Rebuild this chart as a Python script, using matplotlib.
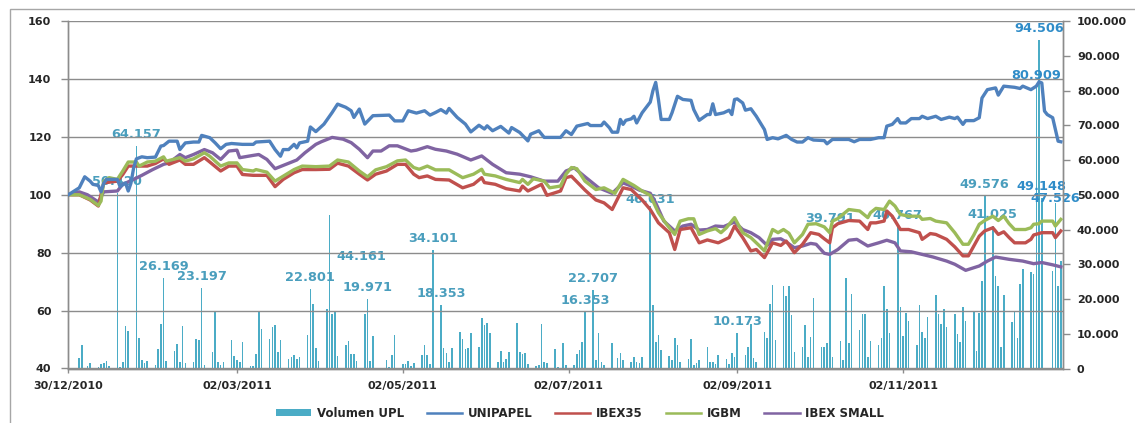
import matplotlib
matplotlib.use("Agg")
import matplotlib.pyplot as plt
import matplotlib.dates as mdates
import matplotlib.ticker as mticker
from matplotlib.patches import Rectangle, Patch
from matplotlib.lines import Line2D
import numpy as np
import pandas as pd

plt.rcParams['font.family'] = ['DejaVu Sans']
plt.rcParams['font.weight'] = 'bold'

BASE = pd.Timestamp('2010-12-30')

# ---------------- data (day offsets from 30/12/2010) ----------------
vol_days = [0, 4, 5, 7, 8, 11, 12, 13, 14, 15,
            18, 19, 20, 21, 22, 25, 26, 27, 28, 29,
            32, 33, 34, 35, 36, 39, 40, 41, 42, 43,
            46, 47, 48, 49, 50, 53, 54, 55, 56, 57,
            60, 61, 62, 63, 64, 67, 68, 69, 70, 71,
            74, 75, 76, 77, 78, 81, 82, 83, 84, 85,
            88, 89, 90, 91, 92, 95, 96, 97, 98, 99,
            102, 103, 104, 105, 106, 109, 110, 111, 112, 117,
            118, 119, 120, 123, 124, 125, 126, 127, 130, 131,
            132, 133, 134, 137, 138, 139, 140, 141, 144, 145,
            146, 147, 148, 151, 152, 153, 154, 155, 158, 159,
            160, 161, 162, 165, 166, 167, 168, 169, 172, 173,
            174, 175, 176, 179, 180, 182, 183, 186, 187, 188,
            189, 190, 193, 194, 195, 196, 197, 200, 202, 203,
            204, 207, 208, 209, 210, 211, 214, 215, 216, 217,
            218, 221, 222, 223, 224, 225, 228, 229, 230, 231,
            232, 235, 236, 237, 238, 239, 242, 243, 244, 245,
            246, 249, 250, 251, 252, 253, 256, 257, 258, 259,
            260, 263, 264, 265, 266, 267, 270, 271, 272, 273,
            274, 277, 278, 279, 280, 281, 284, 285, 286, 287,
            288, 291, 292, 293, 294, 295, 298, 299, 300, 301,
            302, 305, 306, 307, 308, 309, 312, 313, 314, 315,
            316, 319, 320, 321, 322, 323, 326, 327, 328, 329,
            330, 333, 334, 335, 336, 337, 340, 341, 342, 343,
            344, 347, 348, 349, 350, 351, 354, 355, 356, 357,
            358, 362, 363, 364, 365]
vol_k = [1.8, 3.0, 6.7, 0.8, 1.6, 0.3, 1.4, 1.6, 2.2, 0.8,
         50.420, 0.5, 1.8, 12.2, 10.9, 64.157, 8.8, 2.5, 1.6, 2.2,
         1.1, 5.6, 12.7, 26.169, 2.2, 4.9, 7.1, 2.0, 12.2, 1.6,
         1.8, 8.6, 8.3, 23.197, 1.1, 4.7, 16.3, 1.8, 1.1, 1.8,
         8.3, 3.5, 2.5, 1.8, 7.6, 0.8, 0.8, 4.2, 16.6, 11.4,
         8.5, 12.0, 12.4, 4.7, 8.1, 2.8, 3.2, 4.0, 2.8, 3.3,
         9.5, 22.801, 18.5, 5.9, 2.2, 17.1, 44.161, 15.8, 16.3, 3.7,
         6.9, 8.0, 4.2, 4.2, 2.2, 15.6, 19.971, 2.2, 9.3, 2.5,
         0.3, 3.8, 9.5, 1.3, 1.3, 2.2, 0.8, 1.7, 3.8, 6.7,
         3.8, 1.3, 34.101, 18.353, 5.9, 4.4, 2.0, 5.9, 10.6, 8.5,
         5.6, 5.9, 10.1, 6.2, 14.4, 12.4, 13.0, 10.3, 2.0, 5.1,
         2.0, 2.8, 4.7, 13.0, 4.7, 4.2, 4.4, 1.4, 0.6, 1.1,
         12.7, 1.8, 1.6, 5.6, 0.5, 7.2, 1.1, 1.1, 4.3, 5.4,
         7.7, 16.353, 22.707, 2.5, 10.1, 2.0, 1.1, 7.2, 3.0, 4.4,
         2.5, 1.8, 3.3, 1.8, 1.6, 3.3, 46.631, 18.3, 7.7, 9.5,
         5.4, 3.6, 2.5, 8.8, 6.7, 2.0, 2.8, 8.5, 1.1, 1.6,
         2.5, 6.2, 2.0, 2.0, 1.4, 4.0, 2.8, 1.4, 4.4, 3.4,
         10.173, 4.0, 6.2, 12.7, 3.0, 2.0, 10.6, 8.8, 18.5, 24.0,
         8.3, 23.6, 20.9, 23.6, 15.3, 4.7, 6.2, 12.4, 3.4, 9.1,
         20.3, 6.2, 6.2, 7.2, 39.791, 3.4, 8.0, 2.4, 26.0, 7.2,
         21.4, 11.0, 15.8, 15.6, 3.3, 8.0, 6.9, 8.8, 23.8, 17.1,
         10.3, 40.767, 17.8, 9.3, 15.9, 13.7, 6.9, 18.3, 10.6, 8.8,
         14.9, 21.2, 15.6, 12.7, 17.1, 11.9, 15.8, 9.8, 7.7, 17.8,
         13.7, 16.6, 4.9, 16.1, 25.1, 49.576, 41.025, 26.7, 23.6, 6.2,
         21.2, 13.5, 16.3, 8.8, 24.3, 28.7, 27.7, 27.2, 80.909, 94.506,
         49.148, 28.2, 47.526, 23.8, 30.9]

labeled_k = [50.420, 64.157, 26.169, 23.197, 22.801, 44.161, 19.971, 34.101,
             18.353, 16.353, 22.707, 46.631, 10.173, 39.791, 40.767, 49.576,
             41.025, 80.909, 94.506, 49.148, 47.526]

unipapel_days = [0, 4, 6, 8, 9, 11, 12, 13, 14, 18,
                 19, 21, 22, 23, 24, 25, 27, 29, 32, 34,
                 35, 37, 40, 41, 43, 46, 48, 49, 52, 54,
                 56, 58, 60, 64, 68, 69, 74, 76, 78, 79,
                 81, 83, 84, 85, 88, 89, 91, 94, 97, 99,
                 102, 104, 105, 107, 109, 112, 118, 120, 123, 125,
                 128, 131, 133, 135, 137, 139, 140, 143, 146, 148,
                 151, 153, 154, 156, 159, 162, 163, 166, 169, 170,
                 173, 175, 181, 183, 185, 187, 191, 192, 196, 197,
                 199, 200, 202, 203, 204, 205, 207, 208, 209, 211,
                 214, 215, 216, 217, 218, 221, 222, 223, 224, 226,
                 229, 230, 232, 235, 236, 237, 238, 241, 243, 244,
                 245, 246, 248, 249, 251, 253, 256, 257, 259, 261,
                 264, 266, 268, 270, 272, 274, 278, 279, 281, 287,
                 289, 291, 295, 298, 300, 301, 303, 305, 306, 308,
                 310, 313, 314, 316, 319, 321, 324, 326, 327, 329,
                 330, 333, 335, 336, 338, 341, 342, 344, 348, 350,
                 351, 354, 356, 357, 358, 359, 360, 362, 364, 365]
unipapel = [100, 102.4, 106.2, 104.7, 103.6, 103.2, 101, 104, 105.3, 105.3,
            102.8, 104.1, 101.3, 104, 109.3, 112.4, 113.1, 112.8, 113, 116.8,
            117, 118.5, 118.5, 115.6, 117.9, 118.2, 118.2, 120.5, 119.7, 117.9,
            115.9, 117.4, 117.7, 117.4, 117.4, 118.2, 118.5, 115.6, 113.3, 115.6,
            115.6, 117.4, 116.2, 117.9, 118.5, 123.4, 121.8, 124.4, 128.4, 131.3,
            130.2, 129, 126.7, 129.6, 124.4, 127.3, 127.5, 125.5, 125.5, 129,
            128.2, 129, 127.5, 128.4, 129.4, 128.2, 129.8, 126.7, 124.4, 121.7,
            124, 122.7, 123.8, 122.1, 123.6, 121.3, 123.2, 121.5, 118.6, 120.9,
            122.1, 119.8, 119.8, 122.1, 120.8, 123.7, 124.6, 123.9, 123.9, 125.1,
            123.1, 121.6, 121.6, 126, 124.3, 125.7, 126.2, 127.1, 124.8, 128.3,
            132, 136, 138.8, 132.9, 126, 126, 128.3, 131.1, 134, 132.9,
            132.6, 129.4, 125.7, 127.7, 127.7, 131.4, 127.7, 128.3, 129.2, 127.7,
            132.9, 133.1, 131.7, 129.2, 129.7, 127.1, 122.5, 119.1, 119.7, 119.3,
            120.5, 119.1, 118.2, 118.2, 119.7, 118.9, 118.7, 117.6, 119.1, 119.1,
            118.3, 119.1, 119.1, 119.7, 119.7, 123.7, 124.3, 126.3, 124.8, 124.8,
            126.3, 126.3, 127.1, 126.3, 127.1, 126, 126.8, 126.3, 126.8, 124.3,
            125.6, 125.6, 126.6, 133.4, 136.3, 136.9, 134.4, 137.5, 137.1, 136.7,
            137.5, 136.3, 137.5, 139, 138.6, 128.9, 127.7, 126.6, 118.5, 118.3]

ibex35_days = [0, 4, 8, 11, 13, 18, 20, 22, 25, 29,
               32, 35, 37, 41, 43, 46, 50, 52, 56, 59,
               62, 64, 68, 73, 76, 79, 83, 86, 91, 96,
               99, 103, 107, 110, 113, 117, 121, 124, 127, 129,
               132, 135, 140, 145, 149, 152, 153, 157, 161, 166,
               167, 169, 174, 176, 181, 183, 185, 190, 194, 197,
               200, 204, 207, 211, 214, 217, 221, 223, 225, 229,
               232, 235, 239, 243, 245, 248, 251, 253, 256, 259,
               262, 264, 267, 270, 273, 276, 278, 280, 281, 283,
               287, 291, 294, 295, 297, 300, 301, 303, 306, 309,
               313, 314, 317, 319, 323, 326, 329, 331, 333, 335,
               337, 340, 342, 344, 346, 348, 352, 354, 355, 358,
               362, 363, 365]
ibex35 = [100, 100, 98.2, 96.1, 104.1, 104.7, 107, 109.9, 109.9, 109.9,
          110.8, 112.4, 110.5, 112, 110.5, 110.5, 112.8, 111.3, 108.2, 109.9,
          109.9, 107, 106.7, 106.7, 102.8, 105.3, 107.6, 108.7, 108.7, 108.8,
          110.9, 109.9, 107.1, 105.1, 107.1, 108.2, 110.5, 110.5, 107.1, 105.9,
          106.5, 105.3, 105.1, 102.4, 103.6, 105.9, 104.2, 103.6, 102.1, 101.3,
          103, 101.3, 103.6, 99.8, 101.3, 105.9, 106.4, 101.6, 98.2, 97.2,
          94.9, 102.4, 101.8, 98.2, 94.9, 90.3, 86.9, 81.1, 88, 88.6,
          83.4, 84.4, 83.4, 85.2, 89.2, 85.2, 80.6, 81.1, 78.3, 83.4,
          82.5, 84, 80, 82.9, 86.9, 86.3, 84.8, 83.4, 88.6, 90,
          91.1, 90.9, 88, 90.3, 90.3, 90.9, 94.4, 92.6, 88, 88,
          86.9, 84.6, 86.6, 86.3, 84.6, 82, 78.9, 78.9, 82.3, 85.7,
          87.5, 88.6, 86.3, 87.2, 85.2, 83.4, 83.4, 84.6, 86.1, 86.9,
          86.9, 85.2, 87.5]

igbm_days = [0, 4, 8, 11, 12, 13, 15, 18, 20, 22,
             25, 26, 29, 32, 35, 36, 41, 43, 46, 50,
             52, 56, 59, 62, 64, 68, 69, 73, 76, 79,
             83, 86, 91, 96, 99, 103, 107, 110, 113, 117,
             121, 124, 127, 129, 132, 135, 140, 145, 149, 152,
             153, 157, 161, 166, 167, 169, 171, 175, 177, 181,
             183, 185, 187, 190, 194, 197, 201, 204, 208, 211,
             214, 217, 220, 223, 225, 228, 230, 232, 235, 238,
             240, 242, 245, 248, 251, 254, 256, 259, 261, 263,
             265, 267, 270, 272, 275, 278, 280, 281, 283, 287,
             291, 294, 295, 297, 300, 302, 304, 306, 309, 313,
             314, 317, 319, 323, 326, 329, 331, 333, 335, 337,
             340, 342, 344, 346, 348, 352, 354, 355, 357, 358,
             362, 363, 365]
igbm = [100, 100, 98.4, 96.3, 97.8, 104.7, 105.9, 105.3, 108.2, 111.3,
        111.3, 109.9, 111.3, 111.6, 113.1, 111.6, 112.8, 111.6, 112.4, 114.5,
        113.3, 109.9, 111, 111, 108.7, 108.2, 108.7, 107.8, 104.7, 106.4,
        108.7, 109.9, 109.7, 109.9, 112, 111.3, 108.2, 106.2, 108.6, 109.7,
        111.7, 112, 109.4, 108.8, 109.9, 108.6, 108.6, 105.9, 107.1, 108.8,
        107.1, 106.5, 105.3, 104.2, 105.3, 103.6, 105.5, 104.7, 102.4, 103,
        107.1, 109.4, 109, 104.7, 101.8, 102.4, 100.5, 105.3, 103.2, 101.3,
        99.8, 93.8, 89.8, 86.3, 90.9, 91.7, 91.7, 86.3, 87.5, 88.3,
        86.9, 88.6, 92.1, 86.9, 85.2, 82.5, 80.6, 88, 86.9, 88,
        86.7, 83.4, 86.3, 89.8, 90, 88.9, 86.9, 90.9, 91.8, 94.9,
        94.4, 92.1, 93.8, 95.3, 94.9, 97.8, 96.1, 93.2, 92.6, 92.6,
        91.5, 91.8, 90.9, 90.3, 86.9, 82.9, 82.9, 86.1, 89.8, 91.1,
        92.6, 91.1, 92.6, 90, 88, 88, 88.6, 89.8, 90, 90.9,
        90.9, 89.2, 91.5]

ibex_small_days = [0, 4, 7, 11, 13, 18, 20, 24, 27, 31,
                   35, 37, 41, 43, 46, 50, 53, 56, 59, 62,
                   63, 68, 70, 73, 76, 80, 84, 87, 91, 93,
                   97, 101, 104, 107, 110, 112, 115, 118, 121, 126,
                   128, 132, 135, 139, 143, 148, 152, 156, 161, 166,
                   170, 175, 180, 183, 186, 190, 195, 200, 204, 207,
                   210, 214, 216, 219, 223, 226, 229, 232, 235, 238,
                   241, 245, 248, 251, 254, 257, 259, 262, 264, 267,
                   270, 273, 275, 278, 280, 283, 287, 290, 294, 298,
                   301, 304, 306, 310, 314, 318, 323, 326, 330, 335,
                   338, 341, 346, 351, 355, 358, 362, 365]
ibex_small = [100, 101, 100, 97.5, 101, 101.3, 103.6, 105.3, 106.7, 108.7,
              110.5, 111, 113.9, 112.8, 113.9, 115.6, 114.5, 112.2, 115.1, 115.4,
              112.8, 113.6, 113.9, 112.2, 109, 110.5, 112, 114.5, 117.4, 118.3,
              119.8, 119.2, 118, 115.7, 112.8, 115.1, 115.1, 116.9, 116.9, 115.1,
              115.4, 116.6, 115.7, 115.1, 114, 112, 113.4, 110.5, 107.6, 107.1,
              106.2, 104.7, 104.7, 108.2, 109.3, 106.2, 102.4, 100.5, 104.1, 103,
              101.6, 100.5, 97.2, 90.9, 87.5, 89.2, 89.8, 87.8, 88, 89.2,
              89, 90.6, 88, 86.9, 85.2, 82.5, 84.6, 84.8, 83.7, 81.7,
              82.3, 83.2, 82.9, 79.8, 79.4, 81.1, 84.3, 84.6, 82.3, 83.4,
              84.3, 83.4, 80.6, 80.3, 79.4, 78.5, 77.1, 76, 73.9, 75.4,
              77.1, 78.5, 77.7, 77.1, 76.2, 76.6, 75.8, 75.1]

xtick_labels = ['30/12/2010', '02/03/2011', '02/05/2011', '02/07/2011',
                '02/09/2011', '02/11/2011']
series_names = ['Volumen UPL', 'UNIPAPEL', 'IBEX35', 'IGBM', 'IBEX SMALL']

# ---------------- styles ----------------
C_BAR = '#4BACC6'
C_UNI = '#4F81BD'
C_IBEX = '#C0504D'
C_IGBM = '#9BBB59'
C_SMALL = '#8064A2'
C_GRID = '#8C8C8C'
C_TXT = '#262626'
C_LBL = '#4A9EBD'
C_LBL2 = '#2F8CC8'
LW = 2.4


def to_num(days):
    return mdates.date2num(BASE + pd.to_timedelta(np.asarray(days, dtype=float), unit='D'))


W, H = 1135, 423
fig = plt.figure(figsize=(W / 100, H / 100), dpi=100)
fig.patch.set_facecolor('white')
fig.patches.append(Rectangle((10 / W, -0.05), 1.2, 1.05 - 9.3 / H,
                             transform=fig.transFigure, fill=False,
                             ec='#A6A6A6', lw=1.0))

ax = fig.add_axes([68 / W, 1 - 368.5 / H, 995 / W, 347.5 / H])
ax2 = ax.twinx()
ax.set_zorder(ax2.get_zorder() + 1)
ax.patch.set_visible(False)

# bars (secondary axis)
vol_x = to_num(vol_days)
volumes = np.asarray(vol_k) * 1000
ax2.bar(vol_x, volumes, width=0.6, color=C_BAR, edgecolor='none', zorder=2)
ax2.set_ylim(0, 100000)
ax2.set_yticks(np.arange(0, 100001, 10000))
ax2.yaxis.set_major_formatter(mticker.FuncFormatter(
    lambda v, p: f'{v:,.0f}'.replace(',', '.')))
ax2.tick_params(axis='y', length=5, width=1, color=C_GRID, labelsize=8,
                labelcolor=C_TXT, pad=5)

blue_set = {80.909, 94.506, 49.148, 47.526}
offsets = {44.161: (23, -30), 46.631: (0, 4.7), 47.526: (0, 3.2)}
for d, v in zip(vol_days, vol_k):
    if v in labeled_k:
        dx, dy = offsets.get(v, (0, 8.3))
        ax2.annotate(f'{v * 1000:,.0f}'.replace(',', '.'),
                     xy=(to_num([d])[0], v * 1000), xytext=(dx, dy),
                     textcoords='offset points', ha='center', va='center',
                     fontsize=9.3, fontweight='bold',
                     color=C_LBL2 if v in blue_set else C_LBL, zorder=5)

# lines (primary axis)
ax.plot(to_num(ibex_small_days), ibex_small, color=C_SMALL, lw=LW, solid_joinstyle='round', zorder=3)
ax.plot(to_num(ibex35_days), ibex35, color=C_IBEX, lw=LW, solid_joinstyle='round', zorder=3)
ax.plot(to_num(igbm_days), igbm, color=C_IGBM, lw=LW, solid_joinstyle='round', zorder=3)
ax.plot(to_num(unipapel_days), unipapel, color=C_UNI, lw=LW, solid_joinstyle='round', zorder=4)

ax.set_ylim(40, 160)
ax.set_yticks(np.arange(40, 161, 20))
ax.yaxis.grid(True, color=C_GRID, lw=1.0)
ax.set_axisbelow(True)
ax.tick_params(axis='y', length=5, width=1, color=C_GRID, labelsize=8,
               labelcolor=C_TXT, pad=7)

ax.set_xlim(to_num([-0.15])[0], to_num([365.8])[0])
xt = [mdates.date2num(pd.to_datetime(s, dayfirst=True)) for s in xtick_labels]
ax.set_xticks(xt)
ax.set_xticklabels(xtick_labels)
ax.tick_params(axis='x', length=3, width=1, color=C_GRID, labelsize=8,
               labelcolor=C_TXT, pad=6)

for a in (ax, ax2):
    for s in a.spines.values():
        s.set_color(C_GRID)
        s.set_linewidth(1.0)
    a.spines['top'].set_visible(False)

# legend
handles = [Patch(facecolor=C_BAR, edgecolor='none'),
           Line2D([], [], color=C_UNI, lw=1.8),
           Line2D([], [], color=C_IBEX, lw=1.8),
           Line2D([], [], color=C_IGBM, lw=1.8),
           Line2D([], [], color=C_SMALL, lw=1.8)]
fig.legend(handles, series_names, loc='center', bbox_to_anchor=(580 / W, 1 - 413 / H),
           ncol=5, frameon=False, fontsize=8.5, handlelength=3.0, handleheight=0.6,
           columnspacing=1.9, handletextpad=0.5, labelcolor=C_TXT)

fig.savefig('out.png', dpi=100)
